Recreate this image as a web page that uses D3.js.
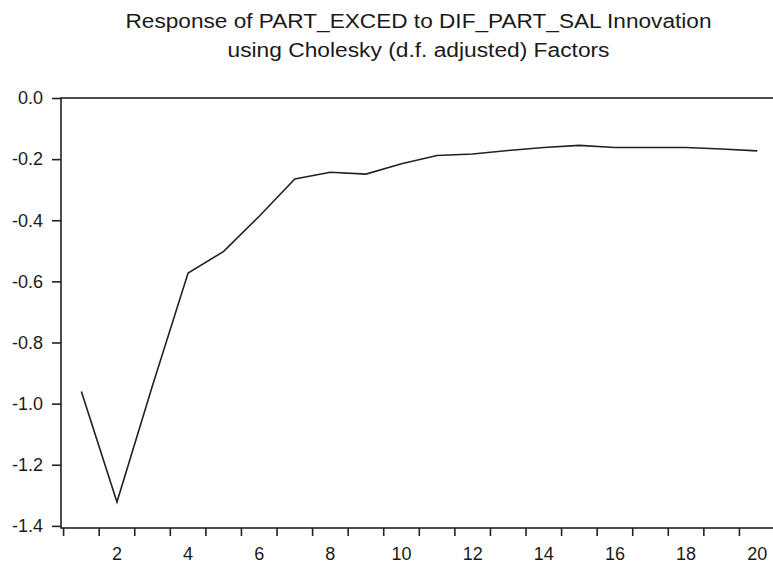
<!DOCTYPE html>
<html>
<head>
<meta charset="utf-8">
<script src="https://cdn.jsdelivr.net/npm/d3@7"></script>
<style>
  html, body { margin: 0; padding: 0; background: #fff; }
  svg { display: block; }
  text { font-family: Arial, "Liberation Sans", sans-serif; fill: #1a1a1a; }
</style>
</head>
<body>
<svg id="chart" width="773" height="565"></svg>
<script>
// Impulse response: horizon periods and the response values
const periods = d3.range(1, 21);
const response = [-0.960, -1.322, -0.941, -0.573, -0.502, -0.387, -0.265, -0.243, -0.249, -0.215,
                  -0.188, -0.183, -0.172, -0.162, -0.155, -0.162, -0.162, -0.162, -0.167, -0.173];
const yTicks = [0.0, -0.2, -0.4, -0.6, -0.8, -1.0, -1.2, -1.4];
const xLabels = [2, 4, 6, 8, 10, 12, 14, 16, 18, 20];
const titleLines = ["Response of PART_EXCED to DIF_PART_SAL Innovation",
                    "using Cholesky (d.f. adjusted) Factors"];
const titleWidths = [586, 382];

const svg = d3.select("#chart");
const plotLeft = 61, plotRight = 775, plotTop = 98, plotBottom = 528;

const x = d3.scaleLinear().domain([0.5, 20.5]).range([plotLeft + 2.6, plotRight]);
const y = d3.scaleLinear().domain([-1.407, 0]).range([plotBottom, plotTop]);

// Title
svg.append("g").selectAll("text").data(titleLines).join("text")
  .attr("x", 418.5).attr("y", (d, i) => 28 + i * 29)
  .attr("text-anchor", "middle")
  .attr("textLength", (d, i) => titleWidths[i])
  .attr("lengthAdjust", "spacingAndGlyphs")
  .style("font-size", "20px")
  .text(d => d);

// Response line
const line = d3.line().x((d, i) => x(periods[i])).y(d => y(d));
svg.append("path").datum(response)
  .attr("d", line)
  .attr("fill", "none")
  .attr("stroke", "#222")
  .attr("stroke-width", 1.6);

// Frame
svg.append("rect")
  .attr("x", plotLeft).attr("y", plotTop)
  .attr("width", plotRight - plotLeft).attr("height", plotBottom - plotTop)
  .attr("fill", "none").attr("stroke", "#222").attr("stroke-width", 1.6);

// Y axis
const yAxis = d3.axisLeft(y).tickValues(yTicks).tickSize(9).tickPadding(9);
const gy = svg.append("g").attr("transform", `translate(${plotLeft},0)`).call(yAxis);
gy.select(".domain").remove();
gy.selectAll(".tick line").attr("stroke", "#222").attr("stroke-width", 1.6);
gy.selectAll(".tick text").style("font-size", "18px").attr("fill", "#1a1a1a")
  .text(d => d === 0 ? "0.0" : "-" + Math.abs(d).toFixed(1));

// X axis: ticks on period boundaries, labels on every second period
const boundaries = d3.range(0.5, 20.5, 1);
const gx = svg.append("g").attr("transform", `translate(0,${plotBottom})`);
gx.selectAll("line").data(boundaries).join("line")
  .attr("x1", d => x(d)).attr("x2", d => x(d))
  .attr("y1", 0).attr("y2", 8)
  .attr("stroke", "#222").attr("stroke-width", 1.6);
gx.selectAll("text").data(xLabels).join("text")
  .attr("x", d => x(d)).attr("y", 32)
  .attr("text-anchor", "middle")
  .style("font-size", "18px")
  .text(d => d);
</script>
</body>
</html>
